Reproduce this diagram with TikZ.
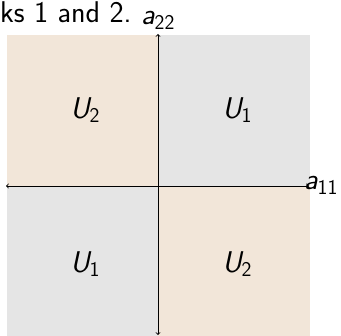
\documentclass[tikz,border=0pt]{standalone}
\usetikzlibrary{arrows}
\definecolor{beige}{RGB}{242,230,217}
\definecolor{lgray}{RGB}{229,229,229}
\newcommand{\Uvar}[2]{{\sffamily\itshape #1}\raisebox{-4.5pt}{\fontsize{21}{22}\selectfont\sffamily #2}}
\tikzset{
  lbl/.style={font=\fontsize{30}{33}\selectfont\sffamily, inner sep=0pt},
  axis/.style={draw=black, line width=0.9pt, <->, >=to},
}
\begin{document}
\begin{tikzpicture}[x=1pt,y=-1pt]
\useasboundingbox (0,0) rectangle (341,336);
\fill[white] (0,0) rectangle (341,336);
% quadrants
\fill[beige] (7,35) rectangle (158,186);
\fill[lgray] (158,35) rectangle (310,186);
\fill[lgray] (7,186) rectangle (158,336);
\fill[beige] (158,186) rectangle (310,336);
% caption fragment
\node[lbl, anchor=base west] (cap) at (0,23) {ks 1 and 2.};
% axis end points
\coordinate (top) at (158,34);
\coordinate (bot) at (158,335);
\coordinate (left) at (6,186);
\coordinate (right) at (309,186);
\draw[axis] (left) -- (right);
\draw[axis] (bot) -- (top);
\node[lbl, anchor=base west] (a22) at (141,25) {\Uvar{a}{22}};
\node[lbl, anchor=base west] (a11) at (304,190) {\Uvar{a}{11}};
% labels
\node[lbl] (q1) at (85,110) {\Uvar{U}{2}};
\node[lbl] (q2) at (237,110) {\Uvar{U}{1}};
\node[lbl] (q3) at (85,264) {\Uvar{U}{1}};
\node[lbl] (q4) at (237,264) {\Uvar{U}{2}};
\end{tikzpicture}
\end{document}
